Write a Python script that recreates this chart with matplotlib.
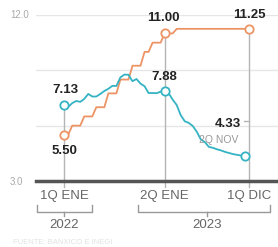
import matplotlib
matplotlib.use("Agg")
import matplotlib.pyplot as plt
import matplotlib.transforms as mtransforms

# Biweekly periods, 1Q ENE 2022 .. 1Q DIC 2023
tick_pos = [0, 25, 46]
tick_labels = ["1Q ENE", "2Q ENE", "1Q DIC"]
years = ["2022", "2023"]

# Inflation (annual %, biweekly), ends 2Q NOV 2023
inflation = [7.13, 7.01, 7.22, 7.34, 7.29, 7.45, 7.72, 7.58, 7.58, 7.72,
             7.88, 8.00, 8.16, 8.15, 8.62, 8.77, 8.76, 8.41, 8.53, 8.28,
             8.14, 7.77, 7.77, 7.76, 7.84, 7.88, 7.76, 7.41, 7.12, 6.57,
             6.24, 6.15, 5.98, 5.67, 5.25, 5.11, 4.85, 4.80, 4.72, 4.66,
             4.58, 4.52, 4.46, 4.42, 4.38, 4.33]

# Policy rate (%)
rate = [5.50, 5.50, 6.00, 6.00, 6.00, 6.50, 6.50, 6.50, 7.00, 7.00,
        7.00, 7.75, 7.75, 7.75, 8.50, 8.50, 8.50, 9.25, 9.25, 9.25,
        10.00, 10.00, 10.50, 10.50, 10.50, 11.00, 11.00, 11.00, 11.25, 11.25,
        11.25, 11.25, 11.25, 11.25, 11.25, 11.25, 11.25, 11.25, 11.25, 11.25,
        11.25, 11.25, 11.25, 11.25, 11.25, 11.25, 11.25]

blue = "#35b3c3"
orange = "#ec9465"
font = ["Liberation Sans Narrow", "Liberation Sans", "DejaVu Sans"]

fig = plt.figure(figsize=(2.78, 2.47), dpi=100)
ax = fig.add_axes([36 / 278, 1 - 181 / 247, 1 - 36 / 278, 166 / 247])
ax.set_xlim(-7.0, 53.2)
ax.set_ylim(3, 12)
ax.axis("off")

# grid
for g in [6, 9, 12]:
    ax.axhline(g, color="#e6e6e6", lw=1, zorder=0)

# vertical guides
ax.plot([0, 0], [2.7, inflation[0]], color="#b5b5b5", lw=1, zorder=1, clip_on=False)
ax.plot([25, 25], [2.7, rate[25]], color="#b5b5b5", lw=1, zorder=1, clip_on=False)
ax.plot([46, 46], [2.7, rate[46]], color="#b5b5b5", lw=1, zorder=1, clip_on=False)
ax.plot([44.8, 46], [6.25, 6.25], color="#b5b5b5", lw=1, zorder=1)

# baseline
ax.axhline(3, color="#555555", lw=2.5, zorder=2, clip_on=False)

x_inf = list(range(len(inflation)))
x_rate = list(range(len(rate)))
ax.plot(x_rate, rate, color=orange, lw=1.3, zorder=3, clip_on=False)
ax.plot(x_inf, inflation, color=blue, lw=1.3, zorder=4, clip_on=False)

mk = dict(marker="o", ms=6, mfc="white", mew=1.3, ls="none", zorder=5, clip_on=False)
ax.plot([0, 25, 46], [rate[0], rate[25], rate[46]], mec=orange, **mk)
ax.plot([0, 25, 45], [inflation[0], inflation[25], inflation[45]], mec=blue, **mk)

lab = dict(family=font, fontweight="bold", fontsize=9.5, color="#222222",
           ha="center", va="center", zorder=6)
ax.text(0.2, 7.95, "7.13", **lab)
ax.text(0.2, 4.6, "5.50", **lab)
ax.text(24.8, 11.85, "11.00", **lab)
ax.text(46, 11.98, "11.25", **lab)
ax.text(25, 8.65, "7.88", **lab)
ax.text(40.8, 6.1, "4.33", **lab)
ax.text(38.5, 5.2, "2Q NOV", family=font, fontsize=7.5, color="#999999",
        ha="center", va="center", zorder=6)

# y labels
fig.text(10 / 278, 1 - 15 / 247, "12.0", family=font, fontsize=7, color="#aaaaaa",
         ha="left", va="center")
fig.text(10 / 278, 1 - 182 / 247, "3.0", family=font, fontsize=7, color="#aaaaaa",
         ha="left", va="center")

# x tick labels, braces and years
trans = mtransforms.blended_transform_factory(ax.transData, ax.transAxes)
for p, t in zip(tick_pos, tick_labels):
    ax.text(p, -0.09, t, transform=trans, family=font, fontsize=9.5, color="#666666",
            ha="center", va="center")

braces = [(-6.7, 7.0, 0.0), (18.4, 51.2, 35.5)]
for (x0, x1, xc), yr in zip(braces, years):
    ax.plot([x0, x0, x1, x1], [-0.145, -0.185, -0.185, -0.145], transform=trans,
            color="#999999", lw=1, clip_on=False, solid_joinstyle="round")
    ax.plot([xc, xc], [-0.185, -0.21], transform=trans, color="#999999", lw=1,
            clip_on=False)
    ax.text(xc, -0.265, yr, transform=trans, family=font, fontsize=9.5,
            color="#666666", ha="center", va="center")

fig.text(13 / 278, 1 - 242 / 247, "FUENTE: BANXICO E INEGI", family=font, fontsize=5.5,
         color="#e2e2e2", ha="left", va="center")

fig.savefig("out.png", dpi=100)
